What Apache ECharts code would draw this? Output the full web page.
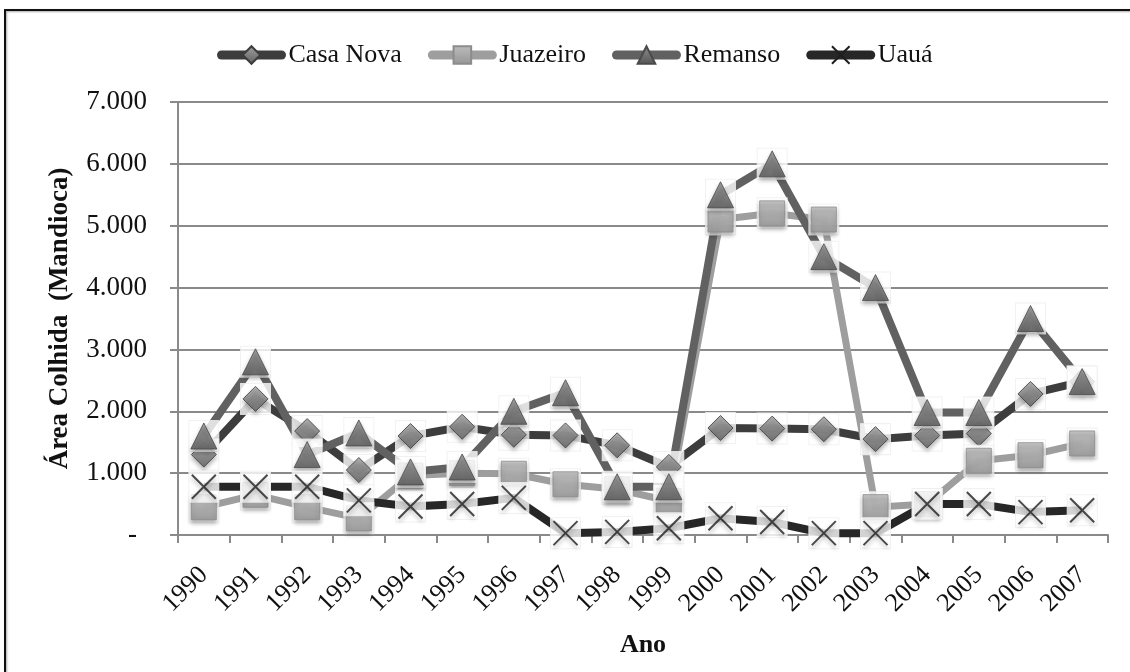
<!DOCTYPE html>
<html>
<head>
<meta charset="utf-8">
<script src="https://cdn.jsdelivr.net/npm/echarts@6/dist/echarts.min.js"></script>
<style>
  html, body { margin: 0; padding: 0; background: #fff; }
  #chart { width: 1130px; height: 672px; }
</style>
</head>
<body>
<div id="chart"></div>
<script>
// Área colhida de mandioca por município, 1990–2007
const years = ['1990','1991','1992','1993','1994','1995','1996','1997','1998','1999',
               '2000','2001','2002','2003','2004','2005','2006','2007'];
const casaNova = [1300, 2200, 1680, 1050, 1600, 1750, 1620, 1610, 1450, 1100, 1730, 1720, 1710, 1550, 1610, 1640, 2280, 2480];
const juazeiro = [450, 650, 450, 270, 960, 1000, 990, 820, 740, 550, 5100, 5200, 5100, 450, 500, 1200, 1290, 1480];
const remanso  = [1600, 2800, 1300, 1650, 1020, 1100, 2000, 2300, 780, 780, 5500, 6000, 4500, 4000, 1980, 1980, 3500, 2480];
const uaua     = [780, 780, 780, 560, 460, 500, 600, 30, 50, 110, 270, 210, 30, 30, 500, 500, 370, 400];
const yTicks = { min: 0, max: 7000, step: 1000 };

const FONT = '"Liberation Serif", "DejaVu Serif", serif';
const GRID_GRAY = '#8a8a8a';

function grad(top, bottom) {
  return new echarts.graphic.LinearGradient(0, 0, 0, 1, [
    { offset: 0, color: top }, { offset: 1, color: bottom }
  ]);
}

const defs = [
  { name: 'Casa Nova', data: casaNova, line: '#3d3d3d', width: 8,
    symbol: 'diamond', size: 25,
    item: { color: grad('#a2a2a2', '#5e5e5e'), borderColor: '#3c3c3c', borderWidth: 1 } },
  { name: 'Juazeiro', data: juazeiro, line: '#9e9e9e', width: 7,
    symbol: 'rect', size: 25,
    item: { color: grad('#bdbdbd', '#959595'), borderColor: '#8c8c8c', borderWidth: 1 } },
  { name: 'Remanso', data: remanso, line: '#616161', width: 8,
    symbol: 'triangle', size: 26,
    item: { color: grad('#8e8e8e', '#555555'), borderColor: '#4a4a4a', borderWidth: 1 } },
  { name: 'Uauá', data: uaua, line: '#272727', width: 8,
    symbol: 'path://M0,0 L10,10 M10,0 L0,10', size: 24,
    item: { color: 'rgba(0,0,0,0)', borderColor: '#1e1e1e', borderWidth: 2 } }
];

const series = [];
// lines underneath everything
defs.forEach(d => {
  series.push({
    name: d.name, type: 'line', data: d.data,
    showSymbol: false, symbol: d.symbol, symbolSize: d.size,
    lineStyle: { color: d.line, width: d.width, cap: 'butt', join: 'miter' },
    itemStyle: d.item,
    z: 2, silent: true, animation: false
  });
});
// per series: white backing square, then the marker
defs.forEach((d, i) => {
  series.push({
    name: d.name + ' fundo', type: 'scatter', data: d.data,
    symbol: 'rect', symbolSize: [30, 31],
    itemStyle: { color: '#ffffff', borderColor: '#ededed', borderWidth: 1 },
    z: 3 + i * 2, silent: true, animation: false
  });
  series.push({
    name: d.name + ' marcador', type: 'scatter', data: d.data,
    symbol: d.symbol, symbolSize: d.size,
    itemStyle: Object.assign({ shadowColor: 'rgba(0,0,0,0.35)', shadowBlur: 4, shadowOffsetY: 3 }, d.item),
    z: 4 + i * 2, silent: true, animation: false
  });
});

const chart = echarts.init(document.getElementById('chart'), null, { renderer: 'canvas' });
chart.setOption({
  animation: false,
  backgroundColor: '#ffffff',
  graphic: [{
    type: 'rect', silent: true,
    shape: { x: 5, y: 10, width: 1140, height: 680 },
    style: { fill: 'none', stroke: '#111', lineWidth: 2, shadowColor: 'rgba(0,0,0,0.35)', shadowBlur: 2, shadowOffsetX: 1, shadowOffsetY: 1 }
  }],
  legend: {
    data: defs.map(d => d.name),
    left: 212, top: 37,
    itemWidth: 60, itemHeight: 22, itemGap: 26,
    lineStyle: { width: 9, cap: 'round' },
    textStyle: { fontFamily: FONT, fontSize: 26, color: '#111', padding: [0, 0, 0, 2] },
    selectedMode: false
  },
  grid: { left: 178, right: 22, top: 102, bottom: 137, containLabel: false },
  xAxis: {
    type: 'category', data: years, boundaryGap: true,
    name: 'Ano', nameLocation: 'middle', nameGap: 97,
    nameTextStyle: { fontFamily: FONT, fontSize: 26, fontWeight: 'bold', color: '#111' },
    axisLine: { lineStyle: { color: GRID_GRAY, width: 2 } },
    axisTick: { show: true, length: 8, lineStyle: { color: GRID_GRAY, width: 2 } },
    axisLabel: { rotate: 45, margin: 36, fontFamily: FONT, fontSize: 26, color: '#111', interval: 0 },
    splitLine: { show: false }
  },
  yAxis: {
    type: 'value', min: yTicks.min, max: yTicks.max, interval: yTicks.step,
    name: 'Área Colhida  (Mandioca)', nameLocation: 'middle', nameGap: 104,
    nameTextStyle: { fontFamily: FONT, fontSize: 27, fontWeight: 'bold', color: '#111' },
    axisLine: { show: true, lineStyle: { color: GRID_GRAY, width: 2 } },
    axisTick: { show: true, length: 8, lineStyle: { color: GRID_GRAY, width: 2 } },
    axisLabel: {
      margin: 31, fontFamily: FONT, fontSize: 27, color: '#111',
      formatter: v => v === 0 ? '{d|-}' : (v / 1000).toFixed(3),
      rich: { d: { fontFamily: FONT, fontSize: 27, color: '#111', padding: [0, 10, 0, 0] } }
    },
    splitLine: { show: true, lineStyle: { color: GRID_GRAY, width: 2 } }
  },
  series: series
});
</script>
</body>
</html>
